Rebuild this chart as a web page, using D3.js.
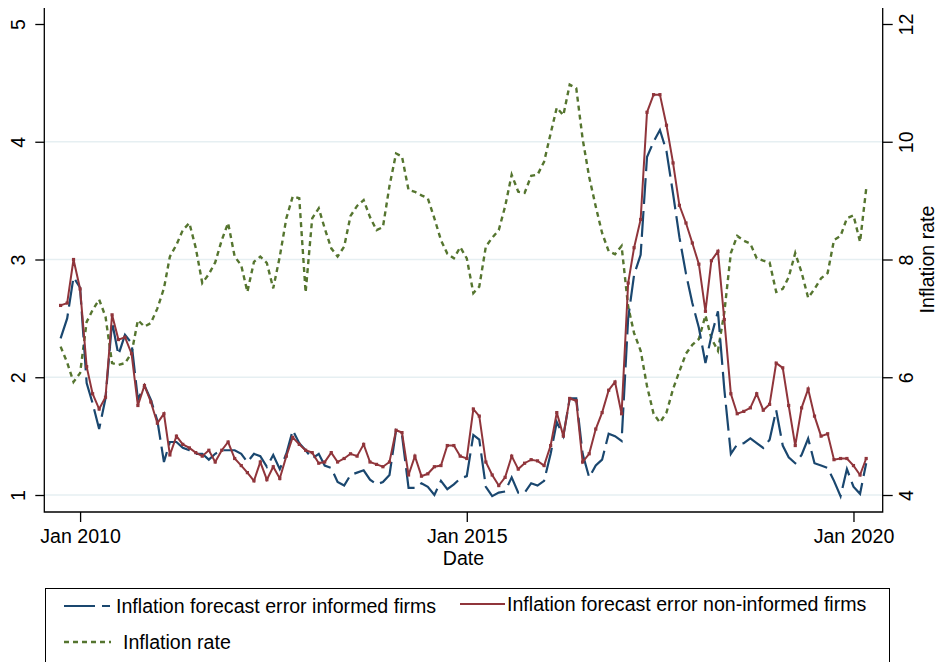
<!DOCTYPE html>
<html>
<head>
<meta charset="utf-8">
<script src="https://cdn.jsdelivr.net/npm/d3@7"></script>
<style>
  body { margin: 0; background: #fff; }
  svg { display: block; font-family: "Liberation Sans", Arial, Helvetica, sans-serif; }
</style>
</head>
<body>
<svg id="chart" width="940" height="662"></svg>
<script>
// monthly observations, Oct 2009 .. Mar 2020
const firstMonth = new Date(2009, 9, 1);
const lastMonth = new Date(2020, 2, 1);

const informed = [
  2.33, 2.50, 2.85, 2.76, 1.95, 1.78, 1.56, 1.82, 2.47, 2.19, 2.36, 2.29, 1.81, 1.93, 1.81, 1.63,
  1.28, 1.45, 1.45, 1.40, 1.38, 1.35, 1.35, 1.30, 1.35, 1.38, 1.38, 1.38, 1.35, 1.28, 1.35,
  1.33, 1.24, 1.34, 1.22, 1.35, 1.55, 1.44, 1.38, 1.31, 1.35, 1.25, 1.23, 1.11, 1.08, 1.17, 1.19,
  1.21, 1.13, 1.09, 1.11, 1.17, 1.55, 1.51, 1.06, 1.06, 1.10, 1.07, 1.00, 1.12, 1.05, 1.09, 1.14,
  1.16, 1.51, 1.47, 1.07, 0.99, 1.02,
  1.03, 1.15, 1.02, 1.02, 1.10, 1.08, 1.12, 1.35, 1.62, 1.50, 1.82, 1.82, 1.35, 1.15, 1.25,
  1.30, 1.52, 1.50, 1.46, 2.50, 2.87, 3.04, 3.87, 4.00, 4.10, 3.92, 3.56, 3.19, 2.88, 2.63, 2.42,
  2.12, 2.35, 2.56, 1.90, 1.35, 1.43, 1.44, 1.48, 1.44, 1.40, 1.47, 1.72, 1.42, 1.32, 1.27, 1.34,
  1.48, 1.27, 1.25, 1.23, 1.12, 0.99, 1.22, 1.07, 1.01, 1.27
];

const nonInformed = [
  2.61, 2.63, 3.00, 2.75, 2.09, 1.86, 1.73, 1.83, 2.53, 2.32, 2.34, 2.20, 1.76, 1.93, 1.79, 1.61, 1.69,
  1.34, 1.50, 1.43, 1.40, 1.36, 1.33, 1.38, 1.28, 1.38, 1.45, 1.31, 1.25, 1.19, 1.12,
  1.28, 1.13, 1.24, 1.14, 1.33, 1.49, 1.43, 1.38, 1.36, 1.27, 1.28, 1.36, 1.28, 1.31, 1.35, 1.33,
  1.43, 1.28, 1.26, 1.24, 1.28, 1.55, 1.53, 1.17, 1.33, 1.16, 1.18, 1.24, 1.25, 1.42, 1.42, 1.33,
  1.31, 1.73, 1.67, 1.28, 1.17, 1.08,
  1.15, 1.33, 1.22, 1.27, 1.30, 1.29, 1.25, 1.42, 1.70, 1.50, 1.82, 1.80, 1.28, 1.35, 1.56,
  1.70, 1.89, 1.96, 1.69, 2.80, 3.10, 3.34, 4.25, 4.40, 4.40, 4.14, 3.82, 3.46, 3.31, 3.14, 2.96,
  2.56, 2.99, 3.07, 2.49, 1.86, 1.69, 1.71, 1.74, 1.86, 1.72, 1.77, 2.12, 2.08, 1.76, 1.42, 1.74,
  1.90, 1.67, 1.50, 1.52, 1.30, 1.31, 1.31, 1.25, 1.17, 1.31
];

const inflation = [
  6.52, 6.25, 5.92, 6.07, 6.94, 7.14, 7.32, 7.03, 6.24, 6.21, 6.24, 6.41, 6.97, 6.86, 6.92, 7.17, 7.51,
  8.05, 8.25, 8.50, 8.62, 8.20, 7.60, 7.75, 7.95, 8.33, 8.62, 8.05, 7.90, 7.45, 7.96,
  8.05, 7.94, 7.51, 8.05, 8.70, 9.07, 9.04, 7.44, 8.70, 8.87, 8.53, 8.19, 8.05, 8.22, 8.74, 8.91,
  9.01, 8.72, 8.50, 8.55, 9.25, 9.80, 9.75, 9.18, 9.15, 9.09, 9.04, 8.70, 8.33, 8.10, 8.02, 8.21,
  8.02, 7.43, 7.54, 8.22, 8.37, 8.50, 8.90, 9.44, 9.15,
  9.13, 9.42, 9.44, 9.66, 10.14, 10.58, 10.45, 10.97, 10.91, 10.05, 9.40, 8.90, 8.45, 8.14, 8.09, 8.23,
  7.20, 6.75, 6.45, 5.85, 5.38, 5.23, 5.40, 5.80, 6.10, 6.40, 6.55, 6.65, 7.05, 6.66, 6.45, 7.10,
  8.11, 8.40, 8.32, 8.27, 8.02, 7.98, 7.95, 7.45, 7.50, 7.70, 8.11, 7.78, 7.35, 7.50, 7.68, 7.77,
  8.33, 8.40, 8.70, 8.75, 8.30, 9.20
];

const leftTicks = [1, 2, 3, 4, 5];
const rightTicks = [4, 6, 8, 10, 12];
const xTicks = [new Date(2010, 0, 1), new Date(2015, 0, 1), new Date(2020, 0, 1)];
const legendLabels = [
  "Inflation forecast error informed firms",
  "Inflation forecast error non-informed firms",
  "Inflation rate"
];

const months = d3.timeMonth.range(firstMonth, d3.timeMonth.offset(lastMonth, 1));

const col = { informed: "#1a476f", nonInformed: "#90353b", inflation: "#55752f", grid: "#e6eff2" };
const plot = { left: 44.3, right: 882.7, top: 8, bottom: 512 };
const fontSize = "19.6px";

const svg = d3.select("#chart");

const x = d3.scaleTime()
  .domain([new Date(2009, 6, 16), new Date(2020, 4, 18)])
  .range([plot.left, plot.right]);
const yL = d3.scaleLinear().domain([1, 5]).range([495, 24]);
const yR = d3.scaleLinear().domain([4, 12]).range([495, 24]);

// grid lines (none at the top tick)
svg.append("g")
  .selectAll("line")
  .data(leftTicks.filter(d => d < 5))
  .join("line")
  .attr("x1", plot.left).attr("x2", plot.right)
  .attr("y1", d => yL(d)).attr("y2", d => yL(d))
  .attr("stroke", col.grid).attr("stroke-width", 1.5);

// series
const lineL = vals => d3.line().x((d, i) => x(months[i])).y(d => yL(d))(vals);
const lineR = vals => d3.line().x((d, i) => x(months[i])).y(d => yR(d))(vals);

svg.append("path")
  .attr("d", lineR(inflation))
  .attr("fill", "none")
  .attr("stroke", col.inflation)
  .attr("stroke-width", 2.4)
  .attr("stroke-dasharray", "5,4");

svg.append("path")
  .attr("d", lineL(informed))
  .attr("fill", "none")
  .attr("stroke", col.informed)
  .attr("stroke-width", 2.2)
  .attr("stroke-dasharray", "26,7");

svg.append("path")
  .attr("d", lineL(nonInformed))
  .attr("fill", "none")
  .attr("stroke", col.nonInformed)
  .attr("stroke-width", 2);

svg.append("g")
  .selectAll("rect")
  .data(nonInformed)
  .join("rect")
  .attr("x", (d, i) => x(months[i]) - 1.6)
  .attr("y", d => yL(d) - 1.6)
  .attr("width", 3.2).attr("height", 3.2)
  .attr("fill", col.nonInformed);

// axes
const leftAxis = svg.append("g")
  .attr("transform", `translate(${plot.left},0)`)
  .call(d3.axisLeft(yL).tickValues(leftTicks).tickSize(9).tickFormat(d3.format("d")));
leftAxis.select(".domain").remove();
leftAxis.selectAll("text")
  .attr("x", null).attr("dy", null)
  .attr("text-anchor", "middle")
  .attr("transform", "translate(-19,0) rotate(-90)");

const rightAxis = svg.append("g")
  .attr("transform", `translate(${plot.right},0)`)
  .call(d3.axisRight(yR).tickValues(rightTicks).tickSize(10).tickFormat(d3.format("d")));
rightAxis.select(".domain").remove();
rightAxis.selectAll("text")
  .attr("x", null).attr("dy", null)
  .attr("text-anchor", "middle")
  .attr("transform", "translate(30.5,0) rotate(-90)");

const bottomAxis = svg.append("g")
  .attr("transform", `translate(0,${plot.bottom})`)
  .call(d3.axisBottom(x).tickValues(xTicks).tickSize(10).tickFormat(d3.timeFormat("Jan %Y")));
bottomAxis.select(".domain").remove();
bottomAxis.selectAll("text").attr("y", 31).attr("dy", null);

svg.selectAll(".tick line").attr("stroke", "#000").attr("stroke-width", 1.3);
svg.selectAll(".tick text").attr("fill", "#000").style("font-size", fontSize)
  .style("font-family", "'Liberation Sans', Arial, Helvetica, sans-serif");

// plot frame: left, bottom, right
svg.append("path")
  .attr("d", `M${plot.left},${plot.top}V${plot.bottom}H${plot.right}V${plot.top}`)
  .attr("fill", "none").attr("stroke", "#000").attr("stroke-width", 1.3);

svg.append("text")
  .attr("x", (plot.left + plot.right) / 2).attr("y", 565)
  .attr("text-anchor", "middle").style("font-size", fontSize)
  .text("Date");

svg.append("text")
  .attr("transform", `translate(934,${yR(8)}) rotate(-90)`)
  .attr("text-anchor", "middle").style("font-size", fontSize)
  .text("Inflation rate");

// legend
const legend = svg.append("g");
legend.append("rect")
  .attr("x", 45.5).attr("y", 588.5).attr("width", 844).attr("height", 90)
  .attr("fill", "none").attr("stroke", "#000").attr("stroke-width", 1);

const items = [
  { x: 64, y: 606, len: 46, color: col.informed, dash: "31,7", w: 2.2, tx: 116, ty: 613, label: legendLabels[0] },
  { x: 460, y: 604, len: 45, color: col.nonInformed, dash: null, w: 2, tx: 507, ty: 611, label: legendLabels[1] },
  { x: 64, y: 642, len: 47, color: col.inflation, dash: "5,4", w: 2.4, tx: 123, ty: 649, label: legendLabels[2] }
];
items.forEach(d => {
  legend.append("line")
    .attr("x1", d.x).attr("x2", d.x + d.len)
    .attr("y1", d.y).attr("y2", d.y)
    .attr("stroke", d.color).attr("stroke-width", d.w)
    .attr("stroke-dasharray", d.dash);
  legend.append("text")
    .attr("x", d.tx).attr("y", d.ty)
    .style("font-size", fontSize)
    .text(d.label);
});
</script>
</body>
</html>
